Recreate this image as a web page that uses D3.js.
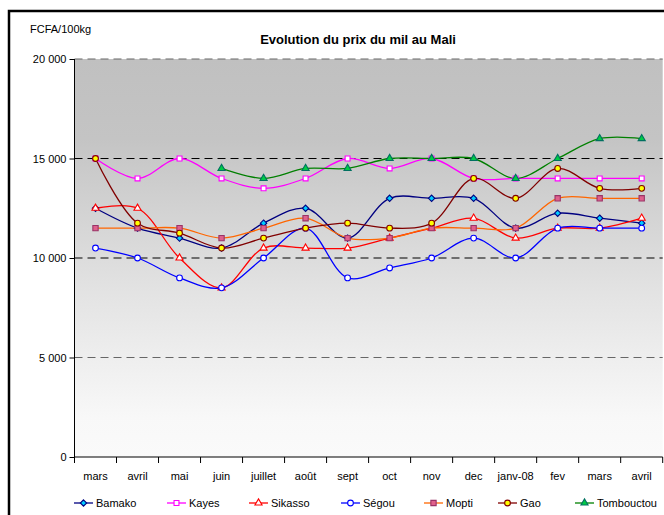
<!DOCTYPE html>
<html><head><meta charset="utf-8">
<script src="https://cdn.jsdelivr.net/npm/d3@7"></script>
<style>body{margin:0;background:#fff}svg{display:block;font-family:"Liberation Sans",Arial,sans-serif}</style>
</head><body><svg id="c" width="664" height="515"></svg>
<script>
const months = ["mars","avril","mai","juin","juillet","août","sept","oct","nov","dec","janv-08","fev","mars","avril"];
const yTicks = [0,5000,10000,15000,20000];
const bamako     = [12500,11500,11000,10500,11750,12500,11000,13000,13000,13000,11500,12250,12000,11750];
const kayes      = [15000,14000,15000,14000,13500,14000,15000,14500,15000,14000,14000,14000,14000,14000];
const sikasso    = [12500,12500,10000,8500,10500,10500,10500,11000,11500,12000,11000,11500,11500,12000];
const segou      = [10500,10000,9000,8500,10000,11500,9000,9500,10000,11000,10000,11500,11500,11500];
const mopti      = [11500,11500,11500,11000,11500,12000,11000,11000,11500,11500,11500,13000,13000,13000];
const gao        = [15000,11750,11250,10500,11000,11500,11750,11500,11750,14000,13000,14500,13500,13500];
const tombouctou = [null,null,null,14500,14000,14500,14500,15000,15000,15000,14000,15000,16000,16000];

const series = [
  {name:"Bamako", values:bamako, line:"#000080", fill:"#00ccff", stroke:"#000080", sym:d3.symbolDiamond2, size:26},
  {name:"Kayes", values:kayes, line:"#ff00ff", fill:"#ffffff", stroke:"#ff00ff", sym:d3.symbolSquare, size:24},
  {name:"Sikasso", values:sikasso, line:"#ff0000", fill:"#ffffff", stroke:"#ff0000", sym:d3.symbolTriangle, size:22},
  {name:"Ségou", values:segou, line:"#0000ff", fill:"#ffffff", stroke:"#0000ff", sym:d3.symbolCircle, size:26},
  {name:"Mopti", values:mopti, line:"#ff6600", fill:"#e0608c", stroke:"#993366", sym:d3.symbolSquare, size:28},
  {name:"Gao", values:gao, line:"#800000", fill:"#ffff00", stroke:"#800000", sym:d3.symbolCircle, size:26},
  {name:"Tombouctou", values:tombouctou, line:"#008000", fill:"#00cc44", stroke:"#007060", sym:d3.symbolTriangle, size:22}
];

const svg = d3.select("#c");
const L=74.5, R=662.7, T=59, B=457;
const x = d3.scaleBand().domain(d3.range(months.length)).range([L,R]);
const y = d3.scaleLinear().domain([0,20000]).range([B,T]);

// frame
svg.append("rect").attr("x",9).attr("y",11).attr("width",700).attr("height",600).attr("fill","#fff").attr("stroke","#000").attr("stroke-width",2.5);

const defs = svg.append("defs");
const g = defs.append("linearGradient").attr("id","bg").attr("x1",0).attr("y1",0).attr("x2",0).attr("y2",1);
g.append("stop").attr("offset","0").attr("stop-color","#c0c0c0");
g.append("stop").attr("offset","0.2").attr("stop-color","#c4c4c4");
g.append("stop").attr("offset","0.6").attr("stop-color","#e4e4e4");
g.append("stop").attr("offset","0.9").attr("stop-color","#f8f8f8");
g.append("stop").attr("offset","1").attr("stop-color","#fafafa");
svg.append("rect").attr("x",L).attr("y",T).attr("width",R-L).attr("height",B-T).attr("fill","url(#bg)");

// gridlines
svg.append("g").selectAll("line").data(yTicks.filter(d=>d>0)).join("line")
  .attr("x1",L).attr("x2",R).attr("y1",d=>y(d)).attr("y2",d=>y(d))
  .attr("stroke",d=>(d===10000||d===15000)?"#000":"#666").attr("stroke-dasharray","8,5").attr("stroke-width",1);

// y axis
const ya = svg.append("g").attr("transform",`translate(${L},0)`)
  .call(d3.axisLeft(y).tickValues(yTicks).tickSize(5).tickPadding(3).tickFormat(d=>d3.format(",")(d).replace(/,/g," ")));
ya.select(".domain").attr("d",`M0,${T}V${B}`).attr("stroke","#000");
ya.selectAll("text").attr("font-size",11).attr("fill","#000").attr("font-family","Liberation Sans, Arial");
// x axis
const xa = svg.append("g").attr("transform",`translate(0,${B})`);
xa.append("line").attr("x1",L).attr("x2",R).attr("stroke","#000");
xa.selectAll("line.t").data(d3.range(months.length+1)).join("line").attr("class","t")
  .attr("x1",i=>L+i*x.bandwidth()).attr("x2",i=>L+i*x.bandwidth()).attr("y1",0).attr("y2",6).attr("stroke","#000");
xa.selectAll("text").data(months).join("text")
  .attr("x",(d,i)=>x(i)+x.bandwidth()/2).attr("y",23).attr("text-anchor","middle").attr("font-size",11).text(d=>d);

// series
const line = d3.line().defined(d=>d!=null).x((d,i)=>x(i)+x.bandwidth()/2).y(d=>y(d)).curve(d3.curveCatmullRom.alpha(0.5));
series.forEach(s=>{
  svg.append("path").attr("d",line(s.values)).attr("fill","none").attr("stroke",s.line).attr("stroke-width",1.3);
});
series.forEach(s=>{
  svg.append("g").selectAll("path").data(s.values.map((v,i)=>({v,i})).filter(d=>d.v!=null)).join("path")
    .attr("transform",d=>`translate(${x(d.i)+x.bandwidth()/2},${y(d.v)})`)
    .attr("d",d3.symbol(s.sym,s.size)).attr("fill",s.fill).attr("stroke",s.stroke).attr("stroke-width",1.1);
});

// title
svg.append("text").attr("x",358).attr("y",44).attr("text-anchor","middle").attr("font-size",13).attr("font-weight","bold").text("Evolution du prix du mil au Mali");
svg.append("text").attr("x",30).attr("y",33).attr("font-size",11).text("FCFA/100kg");

// legend
const lx = [74,167,249,341,424,498,575];
series.forEach((s,i)=>{
  const gg = svg.append("g").attr("transform",`translate(${lx[i]},503)`);
  gg.append("line").attr("x1",0).attr("x2",19).attr("stroke",s.line).attr("stroke-width",1.3);
  gg.append("path").attr("transform","translate(9.5,0)").attr("d",d3.symbol(s.sym,s.size)).attr("fill",s.fill).attr("stroke",s.stroke).attr("stroke-width",1.1);
  gg.append("text").attr("x",22).attr("y",4).attr("font-size",11).text(s.name);
});
</script></body></html>
